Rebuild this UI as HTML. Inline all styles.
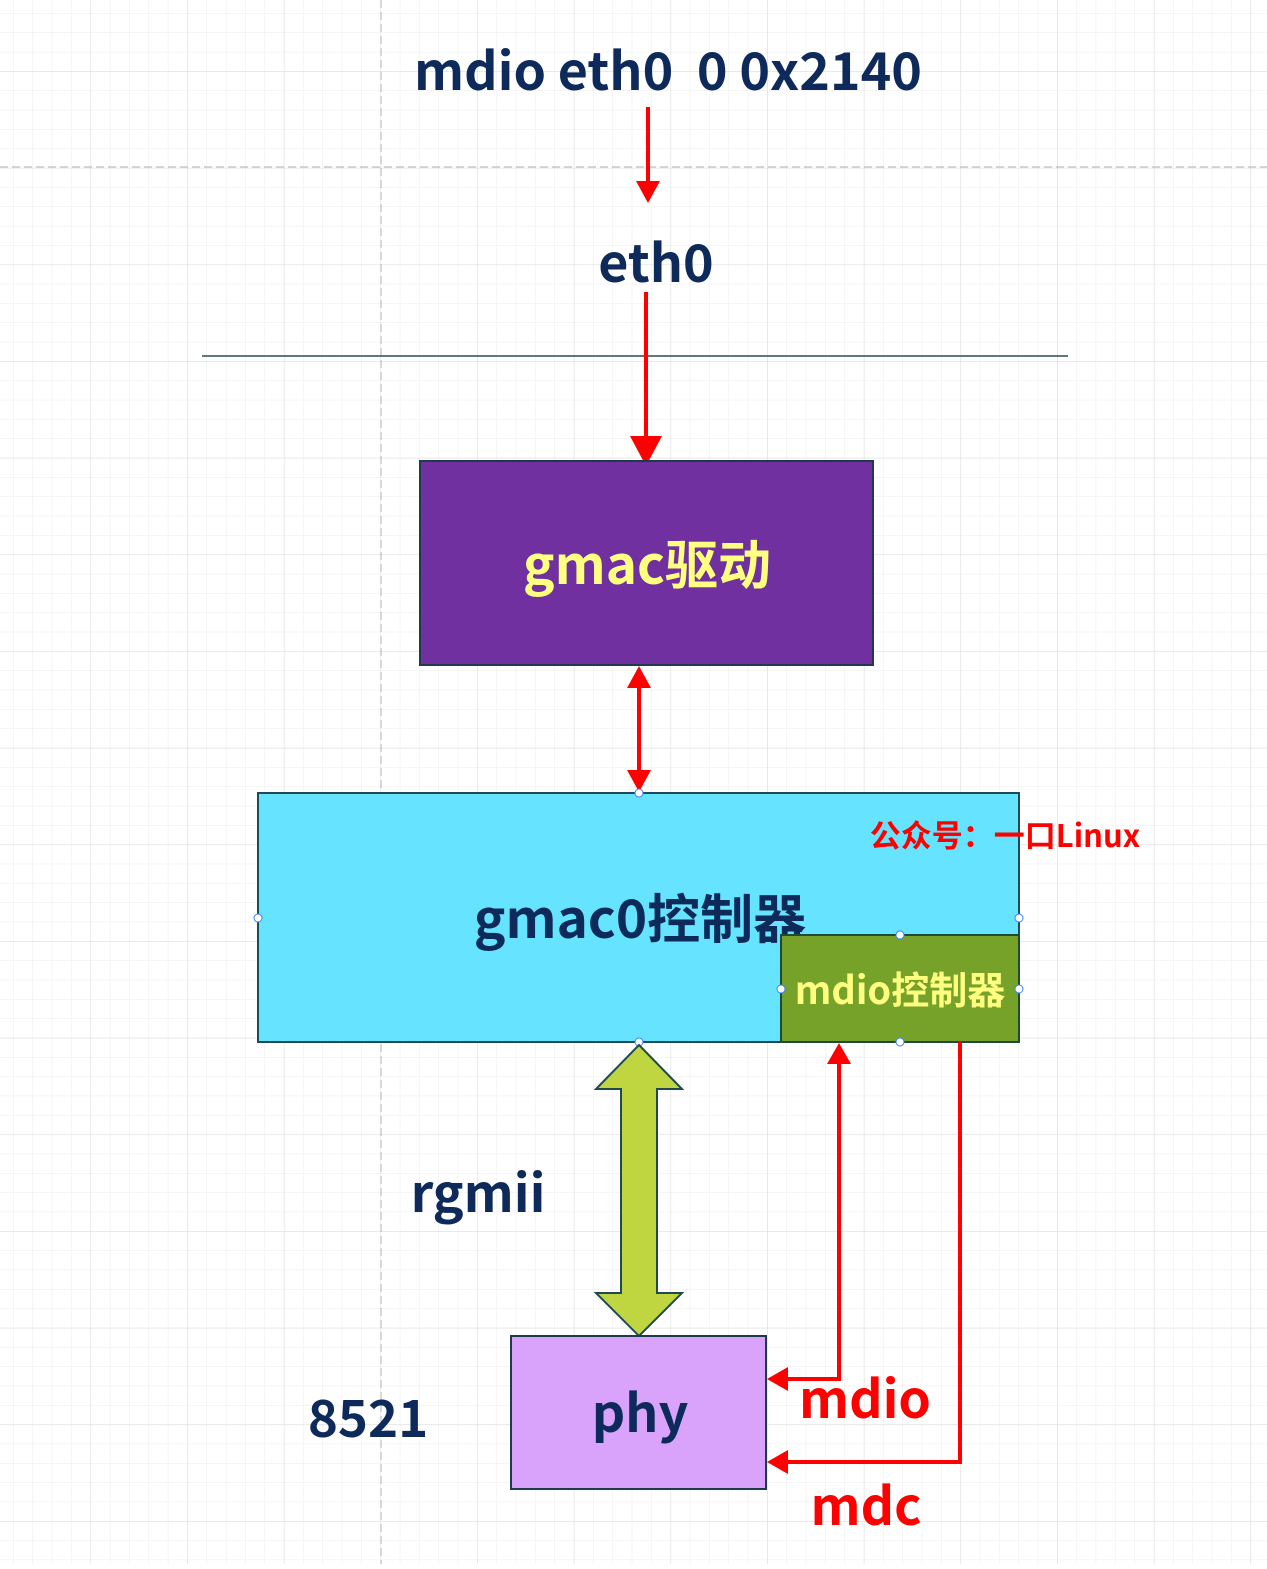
<!DOCTYPE html><html><head><meta charset="utf-8"><style>
body{margin:0}
svg text{font-family:"Liberation Sans","Noto Sans CJK SC",sans-serif;font-weight:bold}
.t{font-family:"Noto Sans CJK SC","Liberation Sans",sans-serif;font-weight:bold}
</style></head><body>
<svg width="1267" height="1564" xmlns="http://www.w3.org/2000/svg">
<defs>
<pattern id="g" x="13.7" y="13.7" width="19.33" height="19.33" patternUnits="userSpaceOnUse"><path d="M19.33 0V19.33H0" fill="none" stroke="#ececec" stroke-width="1"/></pattern>
<pattern id="G" x="-5.6" y="-25" width="96.67" height="96.67" patternUnits="userSpaceOnUse"><path d="M96.67 0V96.67H0" fill="none" stroke="#dcdcdc" stroke-width="1"/></pattern>
</defs>
<rect width="1267" height="1564" fill="#fff"/>
<rect width="1267" height="1564" fill="url(#g)"/>
<rect width="1267" height="1564" fill="url(#G)"/>
<line x1="381" y1="0" x2="381" y2="1564" stroke="#b0b0b0" stroke-dasharray="8,4"/>
<line x1="0" y1="167" x2="1267" y2="167" stroke="#b0b0b0" stroke-dasharray="8,4"/>
<text class="t" x="668" y="90" font-size="52" fill="#0d2a5a" text-anchor="middle">mdio eth0&#160; 0 0x2140</text>
<line x1="648" y1="107" x2="648" y2="185" stroke="red" stroke-width="4"/>
<polygon points="636,181 660,181 648,203" fill="red"/>
<text class="t" x="656" y="282" font-size="52" fill="#0d2a5a" text-anchor="middle">eth0</text>
<line x1="202" y1="356" x2="1068" y2="356" stroke="#2e4a50" stroke-width="1.5"/>
<line x1="646" y1="292" x2="646" y2="440" stroke="red" stroke-width="4"/>
<polygon points="630,436 662,436 646,466" fill="red"/>
<rect x="420" y="461" width="453" height="204" fill="#7030a0" stroke="#1f3a4a" stroke-width="2"/>
<text class="t" x="647" y="584" font-size="53" fill="#ffff80" text-anchor="middle">gmac驱动</text>
<line x1="639" y1="682" x2="639" y2="776" stroke="red" stroke-width="4"/>
<polygon points="627,688 651,688 639,666" fill="red"/>
<polygon points="627,770 651,770 639,792" fill="red"/>
<rect x="258" y="793" width="761" height="249" fill="#66e3ff" stroke="#1f4a5a" stroke-width="2"/>
<text class="t" x="640" y="938" font-size="53" fill="#0d2a5a" text-anchor="middle">gmac0控制器</text>
<text class="t" x="1005" y="847" font-size="31" fill="red" text-anchor="middle">公众号：一口Linux</text>
<rect x="781" y="935" width="238" height="107" fill="#76a22a" stroke="#1f4a3a" stroke-width="2"/>
<text class="t" x="900" y="1004" font-size="38" fill="#ffff80" text-anchor="middle">mdio控制器</text>
<g fill="#fff" stroke="#3b82f6" stroke-width="1">
<circle cx="639" cy="793" r="4"/><circle cx="258" cy="918" r="4"/><circle cx="1019" cy="918" r="4"/><circle cx="639" cy="1042" r="4"/><circle cx="900" cy="935" r="4"/><circle cx="781" cy="989" r="4"/><circle cx="1019" cy="989" r="4"/><circle cx="900" cy="1042" r="4"/></g>
<polygon points="639,1045 682,1089 657,1089 657,1293 682,1293 639,1336 596,1293 621,1293 621,1089 596,1089" fill="#bfd641" stroke="#1f4a50" stroke-width="2"/>
<text class="t" x="478" y="1212" font-size="52" fill="#0d2a5a" text-anchor="middle">rgmii</text>
<rect x="511" y="1336" width="255" height="153" fill="#d9a3fc" stroke="#1f3a4a" stroke-width="2"/>
<text class="t" x="640" y="1432" font-size="52" fill="#0d2a5a" text-anchor="middle">phy</text>
<text class="t" x="368" y="1437" font-size="51" fill="#0d2a5a" text-anchor="middle">8521</text>
<polyline points="839,1062 839,1379 786,1379" fill="none" stroke="red" stroke-width="4"/>
<polygon points="827,1064 851,1064 839,1043" fill="red"/>
<polygon points="788,1367 788,1391 767,1379" fill="red"/>
<polyline points="960,1042 960,1462 786,1462" fill="none" stroke="red" stroke-width="4"/>
<polygon points="788,1450 788,1474 767,1462" fill="red"/>
<text class="t" x="865" y="1418" font-size="52" fill="red" text-anchor="middle">mdio</text>
<text class="t" x="866" y="1525" font-size="52" fill="red" text-anchor="middle">mdc</text>
</svg>
</body></html>
